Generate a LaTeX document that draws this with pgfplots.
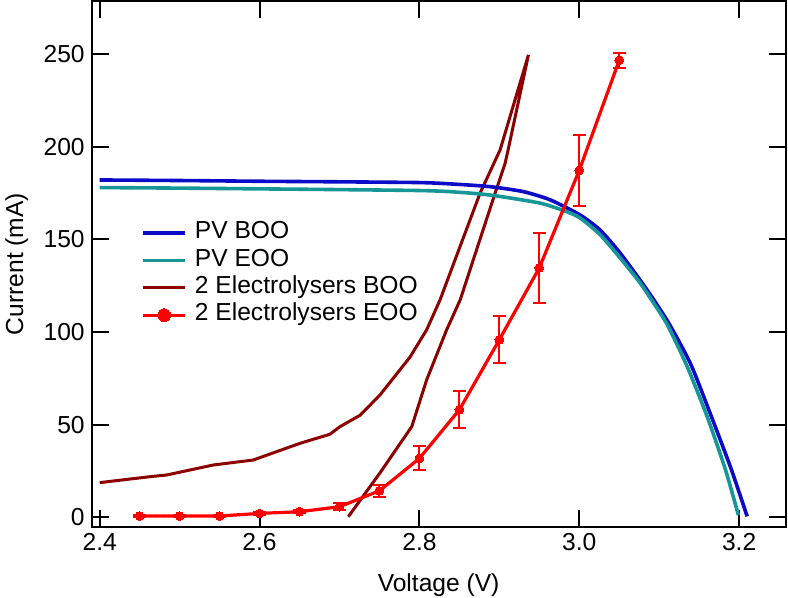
\documentclass[border=0pt]{standalone}
\usepackage{fontspec}
\setmainfont{Liberation Sans}
\usepackage{pgfplots}
\pgfplotsset{compat=1.18}
\definecolor{pvblue}{RGB}{12,12,200}
\definecolor{pvteal}{RGB}{22,150,150}
\definecolor{eldark}{RGB}{140,0,0}
\definecolor{elred}{RGB}{255,0,0}
\pgfplotsset{bigdotlegend/.style={legend image code/.code={\draw[mark repeat=2,mark phase=2,##1,mark size=3.2pt] plot coordinates {(0pt,0pt) (10.5pt,0pt) (21pt,0pt)};}}}
\begin{document}
\begin{tikzpicture}
\begin{axis}[
  scale only axis, width=346.9pt, height=262.7pt,
  xmin=2.39, xmax=3.258, ymin=-5.07, ymax=278.4,
  xtick={2.4,2.6,2.8,3.0,3.2},
  ytick={0,50,100,150,200,250},
  tick align=inside,
  xtick pos=both, ytick pos=both,
  major tick length=8.5pt,
  every tick/.style={black, line width=1pt},
  axis line style={line width=1pt},
  /pgf/number format/assume math mode=true,
  tick label style={font=\fontsize{12.3}{14}\selectfont},
  xticklabel style={/pgf/number format/.cd, fixed, fixed zerofill, precision=1},
  label style={font=\fontsize{12.3}{14}\selectfont},
  xlabel={Voltage (V)}, ylabel={Current (mA)},
  xlabel style={at={(axis description cs:0.5,-0.1225)}, anchor=base},
  ylabel style={at={(axis description cs:-0.108,0.5)}, anchor=center},
  legend cell align=left,
  legend style={draw=none, fill=none, inner sep=0pt,
    at={(axis description cs:0.071,0.586)}, anchor=north west,
    font=\fontsize{12.3}{14}\selectfont, row sep=0pt, column sep=3pt,
    nodes={inner sep=1pt, text height=8.7pt, text depth=3.0pt}},
  legend image code/.code={\draw[mark repeat=2,mark phase=2,#1] plot coordinates {(0pt,0pt) (10.5pt,0pt) (21pt,0pt)};},
]
% 2 Electrolysers BOO (drawn first, under the PV curves)
\addplot[eldark, line width=1.5pt, forget plot] coordinates {
(2.400,18.7)(2.4626,21.9)(2.4835,22.8)(2.5419,28.2)(2.592,30.9)(2.6505,39.9)
(2.688,44.8)(2.7006,48.9)(2.7256,55.0)(2.7507,66.0)(2.788,86.3)(2.809,101.1)
(2.8258,117.3)(2.8759,174.9)(2.901,198.3)(2.9364,249.5)
(2.911,198.3)(2.9072,191.0)(2.8947,174.9)(2.851,117.3)(2.834,101.1)(2.809,74.1)
(2.7904,48.9)(2.7507,24.0)(2.711,0.3)
};
% PV BOO
\addplot[pvblue, line width=1.8pt, smooth, tension=0.4] coordinates {
(2.400,182.0)(2.500,181.7)(2.600,181.3)(2.700,181.0)(2.800,180.6)(2.838,179.9)
(2.888,178.4)(2.930,175.7)(2.964,171.2)(3.001,163.1)(3.026,155.0)
(3.051,142.6)(3.076,128.0)(3.089,120.0)(3.112,104.7)(3.139,83.0)
(3.162,58.0)(3.189,27.3)(3.210,0.5)
};
\addlegendentry{PV BOO}
% PV EOO
\addplot[pvteal, line width=1.8pt, smooth, tension=0.4] coordinates {
(2.400,177.9)(2.500,177.6)(2.600,177.2)(2.700,176.8)(2.800,176.3)(2.838,175.7)
(2.888,173.9)(2.951,169.5)(2.984,164.9)(3.001,161.5)(3.026,152.5)(3.051,140.0)
(3.076,126.5)(3.089,118.2)(3.110,104.0)(3.135,81.3)(3.160,54.3)(3.183,25.5)(3.199,1.2)
};
\addlegendentry{PV EOO}
\addlegendimage{eldark, line width=1.5pt}
\addlegendentry{2 Electrolysers BOO}
% 2 Electrolysers EOO
\addplot[elred, line width=1.6pt, mark=*, mark size=2.2pt,
  mark options={fill=elred, draw=elred, line width=0pt},
  bigdotlegend,
  error bars/.cd, y dir=both, y explicit,
  error bar style={line width=1pt, elred},
  error mark options={rotate=90, mark size=3.3pt, line width=1pt, elred}]
coordinates {
(2.45,0.7) +- (0,0.4)
(2.50,0.7) +- (0,0.4)
(2.55,0.7) +- (0,0.4)
(2.60,2.1) +- (0,0.6)
(2.65,3.0) +- (0,0.8)
(2.70,5.7) +- (0,2.0)
(2.75,14.3) +- (0,3.2)
(2.80,31.8) +- (0,6.4)
(2.85,58.0) +- (0,10.0)
(2.90,95.8) +- (0,12.8)
(2.95,134.6) +- (0,18.8)
(3.00,187.2) +- (0,19.3)
(3.05,246.6) +- (0,4.0)
};
\addlegendentry{2 Electrolysers EOO}
\end{axis}
\pgfresetboundingbox
\path[use as bounding box] (-45.85pt,-35.65pt) rectangle (348.15pt,263.35pt);
\end{tikzpicture}
\end{document}
